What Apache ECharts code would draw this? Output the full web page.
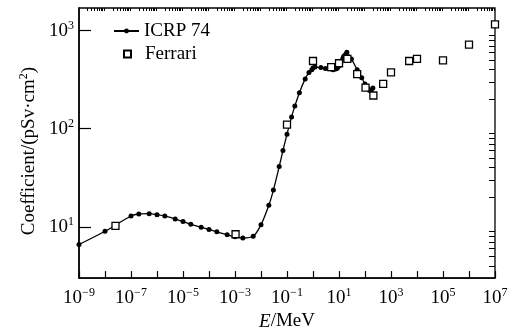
<!DOCTYPE html>
<html>
<head>
<meta charset="utf-8">
<script src="https://cdn.jsdelivr.net/npm/echarts@6/dist/echarts.min.js"></script>
<style>
  html, body { margin: 0; padding: 0; background: #fff; }
  #chart { width: 513px; height: 336px; }
</style>
</head>
<body>
<div id="chart"></div>
<script>
// ICRP 74 转换系数 (E/MeV, pSv·cm²)
const icrpEnergy = [1e-9, 1e-8, 1e-7, 2e-7, 5e-7, 1e-6, 2e-6, 5e-6, 1e-5, 2e-5, 5e-5, 1e-4, 2e-4, 5e-4,
  1e-3, 2e-3, 5e-3, 1e-2, 2e-2, 3e-2, 5e-2, 7e-2, 0.1, 0.15, 0.2, 0.3, 0.5, 0.7, 0.9, 1, 1.2, 2, 3, 4, 5,
  6, 7, 8, 9, 10, 12, 14, 15, 16, 18, 20, 30, 50, 75, 100, 125, 150, 175, 201];
const icrpValue = [6.6, 9.0, 12.9, 13.5, 13.6, 13.3, 12.9, 12.0, 11.3, 10.6, 9.9, 9.4, 8.9, 8.3,
  7.9, 7.7, 8.0, 10.5, 16.6, 23.7, 41.1, 60, 88, 132, 170, 233, 322, 375, 400, 416, 425, 420, 412, 408, 405,
  400, 405, 409, 420, 440, 480, 520, 540, 555, 570, 600, 515, 400, 330, 285, 260, 245, 250, 260];

// Ferrari 数据（方块）
const ferrariEnergy = [2.53e-8, 1.05e-3, 0.1, 1, 5, 10, 21, 50, 105, 210, 500, 1000, 5000, 1e4, 1e5, 1e6, 1e7];
const ferrariValue = [10.2, 8.4, 110, 490, 425, 465, 515, 360, 262, 218, 287, 375, 490, 516, 498, 720, 1160];

// 坐标轴刻度
const xMajorTicks = [1e-9, 1e-8, 1e-7, 1e-6, 1e-5, 1e-4, 1e-3, 1e-2, 1e-1, 1, 10, 100, 1e3, 1e4, 1e5, 1e6, 1e7];
const xTickLabels = [1e-9, 1e-7, 1e-5, 1e-3, 1e-1, 10, 1e3, 1e5, 1e7];
const yMajorTicks = [10, 100, 1000];
const yTickLabels = [10, 100, 1000];

const X_MIN = 1e-9, X_MAX = 1e7, Y_MIN = 3, Y_MAX = 1700;

// 次刻度 2..9 × 10^n
function minorTicks(lo, hi) {
  const out = [];
  for (let e = Math.floor(Math.log10(lo)); e <= Math.ceil(Math.log10(hi)); e++) {
    for (let k = 2; k <= 9; k++) {
      const v = k * Math.pow(10, e);
      if (v > lo * 1.0001 && v < hi * 0.9999) out.push(v);
    }
  }
  return out;
}

const FONT = 'Liberation Serif';
const supRich = {
  sup: { fontSize: 12, fontFamily: FONT, color: '#000', padding: [0, 0, 9, 0] }
};
const powLabel = (v) => {
  const e = Math.round(Math.log10(v));
  return '10{sup|' + String(e).replace('-', '\u2212') + '}';
};

const chart = echarts.init(document.getElementById('chart'));

const baseX = {
  type: 'log', logBase: 10, min: X_MIN, max: X_MAX,
  splitLine: { show: false }
};
const baseY = {
  type: 'log', logBase: 10, min: Y_MIN, max: Y_MAX,
  splitLine: { show: false }
};
const legendText = { fontFamily: FONT, fontSize: 19, color: '#000', lineHeight: 20 };

const option = {
  animation: false,
  grid: {
    left: 79, right: 18, top: 8, bottom: 56,
    show: true, borderColor: '#000', borderWidth: 1.3, backgroundColor: 'transparent'
  },
  legend: [
    {
      data: ['ICRP 74'], left: 113, top: 21, orient: 'vertical', padding: 0,
      itemWidth: 25, itemHeight: 6, textStyle: legendText
    },
    {
      data: [{ name: 'Ferrari', icon: 'path://M0,0H10V10H0Z' }],
      left: 123, top: 44, orient: 'vertical', padding: 0, symbolKeepAspect: true,
      itemWidth: 25, itemHeight: 7, textStyle: legendText
    }
  ],
  xAxis: [
    Object.assign({}, baseX, {
      name: '{i|E}/MeV', nameLocation: 'middle', nameGap: 31,
      nameTextStyle: {
        fontFamily: FONT, fontSize: 19, color: '#000',
        rich: { i: { fontFamily: FONT, fontSize: 19, fontStyle: 'italic', color: '#000' } }
      },
      axisLine: { show: true, lineStyle: { color: '#000', width: 1.5 } },
      axisTick: { show: true, inside: true, length: 7, customValues: xMajorTicks, lineStyle: { color: '#000', width: 1.2 } },
      axisLabel: {
        customValues: xTickLabels, margin: 9, formatter: powLabel,
        fontFamily: FONT, fontSize: 19, color: '#000', rich: supRich
      }
    }),
    Object.assign({}, baseX, {
      axisLine: { show: false },
      axisTick: { show: true, inside: true, length: 3, customValues: minorTicks(X_MIN, X_MAX), lineStyle: { color: '#000', width: 1 } },
      axisLabel: { show: false }
    })
  ],
  yAxis: [
    Object.assign({}, baseY, {
      name: 'Coefficient/(pSv·cm{sup|2})', nameLocation: 'middle', nameGap: 39, nameRotate: 90,
      nameTextStyle: {
        fontFamily: FONT, fontSize: 19, color: '#000', padding: [0, 16, 0, 0],
        rich: { sup: { fontSize: 12, fontFamily: FONT, color: '#000', padding: [0, 0, 9, 0] } }
      },
      axisLine: { show: true, lineStyle: { color: '#000', width: 1.5 } },
      axisTick: { show: true, inside: true, length: 12, customValues: yMajorTicks, lineStyle: { color: '#000', width: 1.2 } },
      axisLabel: {
        customValues: yTickLabels, margin: 5, formatter: powLabel,
        fontFamily: FONT, fontSize: 19, color: '#000', rich: supRich
      }
    }),
    Object.assign({}, baseY, {
      axisLine: { show: false },
      axisTick: { show: true, inside: true, length: 6, customValues: minorTicks(Y_MIN, Y_MAX), lineStyle: { color: '#000', width: 1 } },
      axisLabel: { show: false }
    })
  ],
  series: [
    {
      name: 'ICRP 74', type: 'line', xAxisIndex: 0, yAxisIndex: 0,
      data: icrpEnergy.map((e, i) => [e, icrpValue[i]]),
      smooth: 0.3,
      symbol: 'circle', symbolSize: 5, showAllSymbol: true,
      lineStyle: { color: '#000', width: 1.3 },
      itemStyle: { color: '#000' },
      z: 2
    },
    {
      name: 'Ferrari', type: 'scatter', xAxisIndex: 0, yAxisIndex: 0,
      data: ferrariEnergy.map((e, i) => [e, ferrariValue[i]]),
      symbol: 'rect', symbolSize: 7,
      itemStyle: { color: '#fff', borderColor: '#000', borderWidth: 1.3, opacity: 1 },
      z: 3
    }
  ]
};

chart.setOption(option);
</script>
</body>
</html>
